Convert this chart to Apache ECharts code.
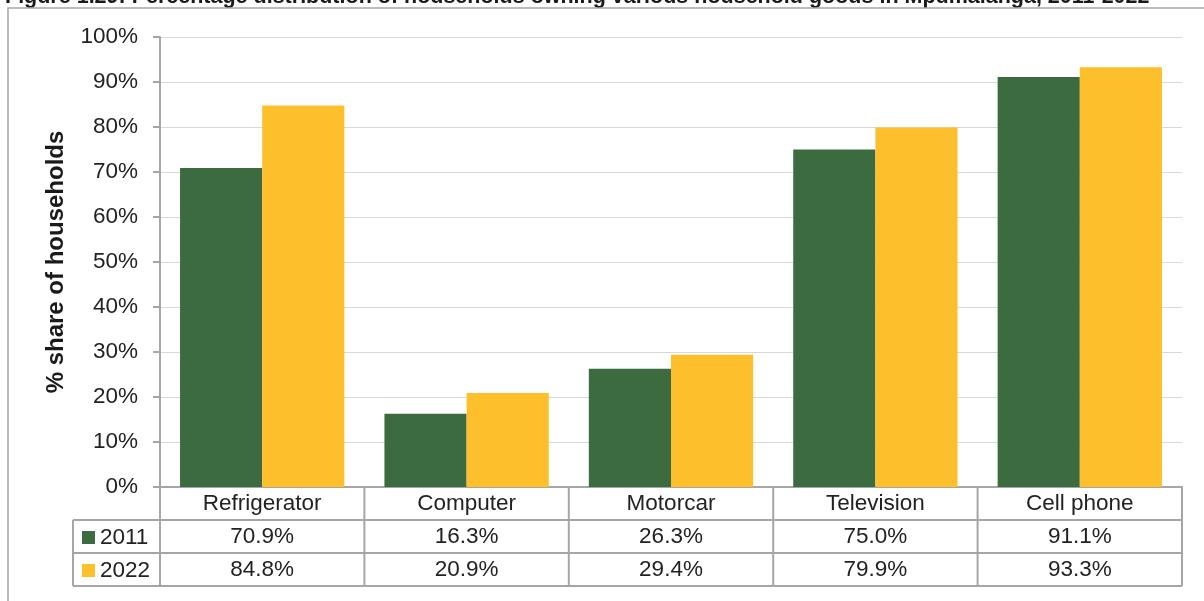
<!DOCTYPE html>
<html><head><meta charset="utf-8">
<script src="https://cdn.jsdelivr.net/npm/echarts@6/dist/echarts.min.js"></script>
<style>html,body{margin:0;padding:0;background:#fff}#c{width:1204px;height:601px}</style>
</head><body><div id="c"></div>
<script>
const titleText = 'Figure 1.29: Percentage distribution of households owning various household goods in Mpumalanga, 2011-2022';
const categories = ['Refrigerator', 'Computer', 'Motorcar', 'Television', 'Cell phone'];
const seriesNames = ['2011', '2022'];
const values2011 = [70.9, 16.3, 26.3, 75.0, 91.1];
const values2022 = [84.8, 20.9, 29.4, 79.9, 93.3];
const yMin = 0, yMax = 100, yStep = 10;
const axisName = '% share of households';

const colors = ['#3C6B40', '#FDC02C'];
const FONT = '"Liberation Sans", Arial, sans-serif';
const LINE = '#a6a6a6';
const TXT = '#222222';
const FS = 22.5;
const ROW_H = 33;
const fmt = v => v.toFixed(1) + '%';

const chart = echarts.init(document.getElementById('c'), null, {renderer: 'canvas'});

function valueAxis(vals, idx) {
  return {
    type: 'category', data: categories, position: 'bottom', offset: ROW_H * idx,
    axisLine: {show: false}, axisTick: {show: false}, splitLine: {show: false},
    axisLabel: {formatter: (v, i) => fmt(vals[i]), fontSize: FS, color: TXT, margin: 5, fontFamily: FONT}
  };
}

const option = {
  animation: false,
  textStyle: {fontFamily: FONT},
  title: {text: titleText, left: 5, top: -14, padding: 0,
    textStyle: {fontSize: 21.5, fontWeight: 'bold', color: '#1a1a1a', fontFamily: FONT}},
  legend: {
    data: seriesNames, orient: 'vertical', left: 82, top: 526, padding: 0,
    icon: 'rect', itemWidth: 13, itemHeight: 13, itemGap: ROW_H - Math.round(FS),
    textStyle: {fontSize: FS, color: TXT, fontFamily: FONT}
  },
  grid: {left: 160, right: 22, top: 37, bottom: 114},
  xAxis: [
    {type: 'category', data: categories,
      axisLine: {lineStyle: {color: LINE, width: 2}}, axisTick: {show: false},
      axisLabel: {fontSize: FS, color: TXT, margin: 5, fontFamily: FONT}},
    valueAxis(values2011, 1),
    valueAxis(values2022, 2)
  ],
  yAxis: {
    type: 'value', min: yMin, max: yMax, interval: yStep,
    axisLabel: {formatter: '{value}%', fontSize: FS, color: TXT, margin: 22, fontFamily: FONT},
    axisLine: {show: true, lineStyle: {color: LINE, width: 2}},
    axisTick: {show: true, length: 7, lineStyle: {color: LINE, width: 2}},
    splitLine: {lineStyle: {color: '#d9d9d9', width: 1}},
    name: axisName, nameLocation: 'middle', nameGap: 92,
    nameTextStyle: {fontSize: 24, fontWeight: 'bold', color: '#1a1a1a', fontFamily: FONT}
  },
  series: [
    {type: 'bar', name: seriesNames[0], data: values2011, itemStyle: {color: colors[0]},
      barGap: '0%', barCategoryGap: '19.6%'},
    {type: 'bar', name: seriesNames[1], data: values2022, itemStyle: {color: colors[1]},
      barGap: '0%', barCategoryGap: '19.6%'}
  ]
};
chart.setOption(option);

// Table grid lines computed from the chart's own scales
const c0 = chart.convertToPixel({xAxisIndex: 0}, categories[0]);
const c1 = chart.convertToPixel({xAxisIndex: 0}, categories[1]);
const band = c1 - c0;
const y0 = chart.convertToPixel({yAxisIndex: 0}, yMin);
const xStart = c0 - band / 2;
const xEnd = xStart + band * categories.length;
const labelLeft = 73;
const els = [];
const ln = (x1, y1, x2, y2) => els.push({type: 'line', shape: {x1, y1, x2, y2},
  style: {stroke: LINE, lineWidth: 2}, z: 10});
for (let r = 1; r <= 3; r++) ln(labelLeft, y0 + ROW_H * r, xEnd, y0 + ROW_H * r);
for (let i = 0; i <= categories.length; i++) ln(xStart + band * i, y0, xStart + band * i, y0 + ROW_H * 3);
ln(labelLeft, y0 + ROW_H, labelLeft, y0 + ROW_H * 3);
// outer frame
els.push({type: 'polyline', shape: {points: [[8, 640], [8, 8], [1240, 8]]},
  style: {stroke: LINE, lineWidth: 1.5, fill: null}, z: 10});
chart.setOption({graphic: els});
</script>
</body></html>
